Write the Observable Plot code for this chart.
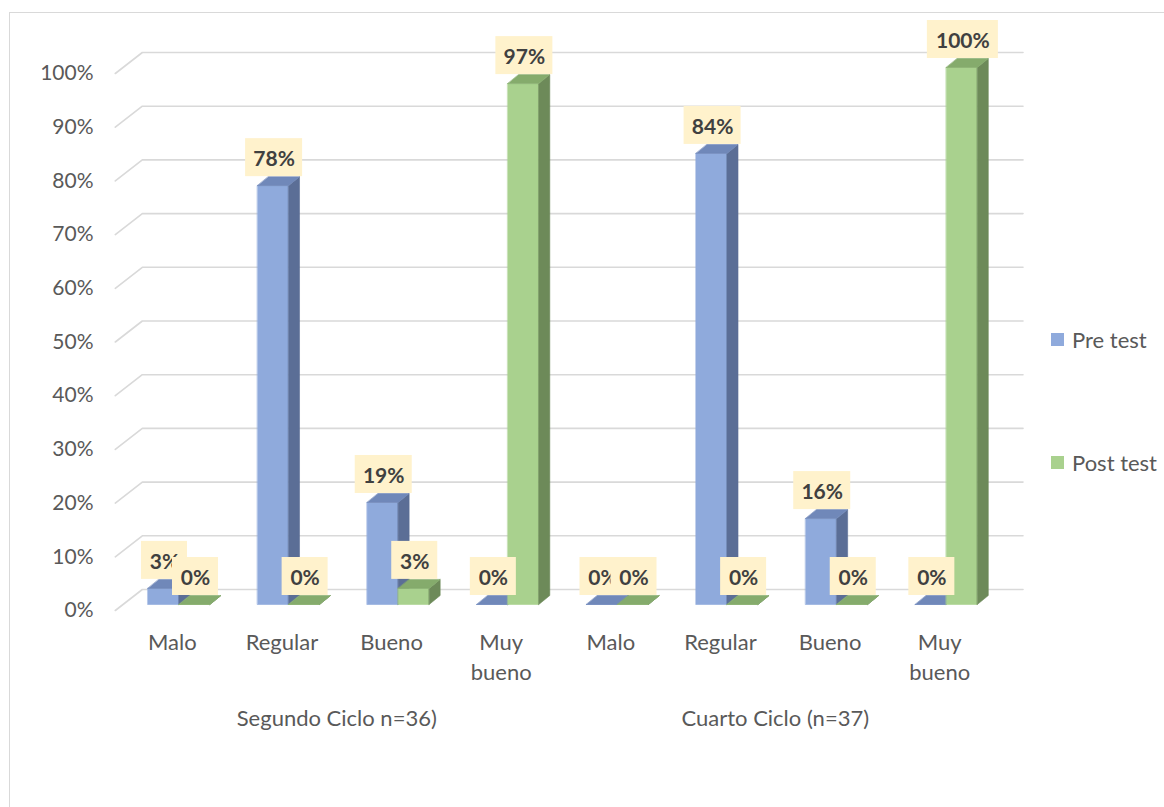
<!DOCTYPE html>
<html>
<head>
<meta charset="utf-8">
<script src="https://cdn.jsdelivr.net/npm/d3@7"></script>
<script src="https://cdn.jsdelivr.net/npm/@observablehq/plot@0.6"></script>
<style>
  html, body { margin: 0; padding: 0; background: #fff; }
  body { width: 1164px; height: 807px; position: relative; overflow: hidden; font-family: Lato, "Open Sans", sans-serif; }
  #frame { position: absolute; left: 9px; top: 12px; width: 1200px; height: 820px; border-left: 1.5px solid #D9D9D9; border-top: 1.5px solid #D9D9D9; }
  #chart { position: absolute; left: 0; top: 0; }
  .leg { position: absolute; left: 1051px; font-size: 22px; color: #595959; display: flex; align-items: center; height: 24px; }
  .leg span.sw { display: inline-block; width: 13px; height: 13px; margin-right: 8px; }
</style>
</head>
<body>
<div id="frame"></div>
<div id="chart"></div>
<div class="leg" style="top:327px"><span class="sw" style="background:#8FAADC"></span>Pre test</div>
<div class="leg" style="top:450px"><span class="sw" style="background:#A9D18E"></span>Post test</div>
<script>
// ---- data ----
const groups = ["Segundo Ciclo n=36)", "Cuarto Ciclo (n=37)"];
const categories = ["Malo", "Regular", "Bueno", "Muy\nbueno"];
const series = ["Pre test", "Post test"];
const preTest  = [3, 78, 19, 0,   0, 84, 16, 0];
const postTest = [0, 0, 3, 97,    0, 0, 0, 100];
const yTicks = [0, 10, 20, 30, 40, 50, 60, 70, 80, 90, 100];

// ---- geometry helpers (data units) ----
const pxX = 109.6, pxY = 5.37;
const wallDX = 27 / pxX, wallDY = 21 / pxY, wallX0 = -0.02, wallX1 = 8.26;
const barBase = 6 / pxY;           // bars sit a bit behind the front of floor
const barDX = 11 / pxX, barDY = 9 / pxY;
const seriesX = [[-0.223, 0.06], [0.06, 0.343]];
const colors = [
  {front: "#8FAADC", side: "#5B6E96", top: "#7088B9"},
  {front: "#A9D18E", side: "#6D8A59", top: "#85AB6C"}
];
const boxH = 38 / pxY;
const boxW = {2: 46, 3: 57, 4: 71};

const values = [preTest, postTest];
const cells = [];
for (let s = 0; s < 2; s++) {
  values[s].forEach((v, i) => {
    const c = i + 0.5;
    cells.push({s, i, v, x1: c + seriesX[s][0], x2: c + seriesX[s][1], label: v + "%"});
  });
}
function faces(s, kind) {
  const pts = [];
  cells.filter(d => d.s === s).forEach(d => {
    const b = barBase, t = barBase + d.v, id = d.i;
    let poly;
    if (kind === "front") poly = [[d.x1, b], [d.x2, b], [d.x2, t], [d.x1, t]];
    else if (kind === "side") poly = [[d.x2, b], [d.x2 + barDX, b + barDY], [d.x2 + barDX, t + barDY], [d.x2, t]];
    else poly = [[d.x1, t], [d.x2, t], [d.x2 + barDX, t + barDY], [d.x1 + barDX, t + barDY]];
    poly.forEach(p => pts.push({id, x: p[0], y: p[1]}));
  });
  return pts;
}
const grid = [];
yTicks.forEach(v => {
  grid.push({v, x: wallX0, y: v});
  grid.push({v, x: wallX0 + wallDX, y: v + wallDY});
  grid.push({v, x: wallX1, y: v + wallDY});
});
function boxes(s) {
  return cells.filter(d => d.s === s).map(d => {
    const cx = (d.x1 + d.x2) / 2 + 0.01;
    const w = boxW[d.label.length] / pxX;
    const y1 = barBase + d.v + barDY;
    return {cx, x1: cx - w / 2, x2: cx + w / 2, y1, y2: y1 + boxH, ym: y1 + boxH / 2, label: d.label};
  });
}
const catLabels = d3.range(8).map(i => ({x: i + 0.5, text: categories[i % 4]}));
const groupLabels = groups.map((g, k) => ({x: 2 + 4 * k, text: g}));

const marks = [
  Plot.line(grid, {x: "x", y: "y", z: "v", stroke: "#D9D9D9", strokeWidth: 1.6})
];
for (let s = 0; s < 2; s++) {
  for (const kind of ["front", "side", "top"]) {
    marks.push(Plot.line(faces(s, kind), {x: "x", y: "y", z: "id", curve: "linear-closed",
      fill: colors[s][kind], stroke: colors[s][kind], strokeWidth: 0.6}));
  }
}
for (let s = 0; s < 2; s++) {
  const bx = boxes(s);
  marks.push(Plot.rect(bx, {x1: "x1", x2: "x2", y1: "y1", y2: "y2", fill: "#FFF2CC"}));
  marks.push(Plot.text(bx, {x: "cx", y: "ym", text: "label", dy: 2, fontWeight: "bold", fontSize: 21, fill: "#404040"}));
}
marks.push(Plot.text(catLabels, {x: "x", y: () => 0, text: "text", dy: 18, lineAnchor: "top", lineHeight: 1.36, fontSize: 22, fill: "#595959"}));
marks.push(Plot.text(groupLabels, {x: "x", y: () => 0, text: "text", dy: 108, fontSize: 22, fill: "#595959"}));

const plot = Plot.plot({
  width: 1164,
  height: 807,
  marginLeft: 117,
  marginRight: 170,
  marginTop: 73,
  marginBottom: 197,
  style: {fontFamily: "Lato, 'Open Sans', sans-serif", fontSize: "21px", color: "#595959", background: "transparent", overflow: "visible"},
  x: {domain: [0, 8], range: [117, 994], axis: null},
  y: {domain: [0, 100], range: [610, 73], ticks: yTicks, tickSize: 0, tickPadding: 24, tickFormat: d => d + "%", label: null},
  marks
});
document.getElementById("chart").appendChild(plot);
</script>
</body>
</html>
